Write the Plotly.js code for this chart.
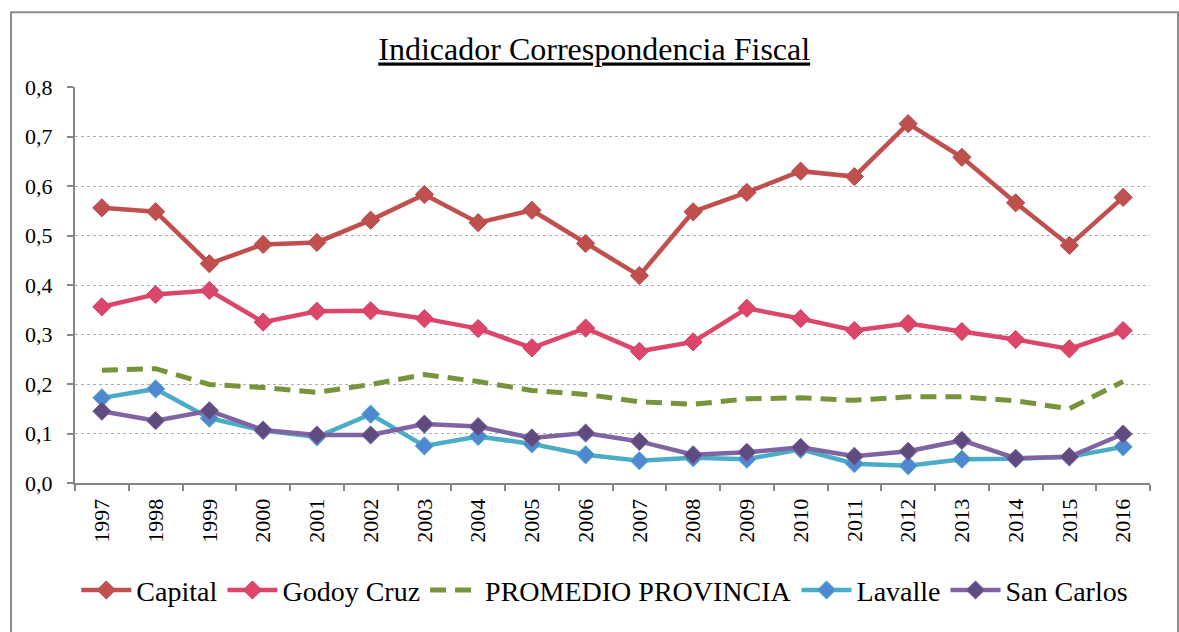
<!DOCTYPE html>
<html>
<head>
<meta charset="utf-8">
<script src="https://cdn.plot.ly/plotly-3.0.1.min.js"></script>
<style>
html, body { margin: 0; padding: 0; background: #fff; }
#chart { width: 1179px; height: 632px; }
</style>
</head>
<body>
<div id="chart"></div>
<script>
const years = ["1997","1998","1999","2000","2001","2002","2003","2004","2005","2006","2007","2008","2009","2010","2011","2012","2013","2014","2015","2016"];
const capital = [0.556,0.548,0.443,0.482,0.486,0.531,0.583,0.526,0.551,0.484,0.419,0.548,0.587,0.630,0.619,0.726,0.658,0.566,0.480,0.577];
const godoyCruz = [0.356,0.381,0.389,0.325,0.347,0.348,0.332,0.312,0.273,0.313,0.266,0.285,0.353,0.332,0.308,0.322,0.306,0.290,0.271,0.308];
const promedio = [0.228,0.231,0.199,0.193,0.183,0.199,0.219,0.205,0.187,0.179,0.164,0.159,0.170,0.172,0.167,0.174,0.174,0.166,0.150,0.205];
const lavalle = [0.172,0.190,0.131,0.106,0.093,0.139,0.075,0.094,0.079,0.057,0.045,0.051,0.048,0.068,0.039,0.035,0.048,0.049,0.053,0.073];
const sanCarlos = [0.145,0.126,0.146,0.107,0.097,0.097,0.119,0.114,0.091,0.101,0.084,0.057,0.062,0.072,0.054,0.064,0.086,0.050,0.053,0.099];
const seriesNames = ["Capital","Godoy Cruz","PROMEDIO PROVINCIA","Lavalle","San Carlos"];

const font = "Liberation Serif";

function lineTrace(name, y, lineColor, markerColor, markerLine) {
  return {
    type: "scatter", mode: "lines+markers", name: name, x: years, y: y,
    line: {color: lineColor, width: 4.5},
    marker: {symbol: "diamond", size: 14, color: markerColor, line: {color: markerLine, width: 1}}
  };
}

const data = [
  lineTrace(seriesNames[0], capital, "#C0504D", "#C0504D", "#B8474A"),
  lineTrace(seriesNames[1], godoyCruz, "#DC466A", "#DC466A", "#D33E62"),
  {type: "scatter", mode: "lines", name: seriesNames[2], x: years, y: promedio,
   line: {color: "#77933C", width: 5, dash: "16px,9px"}},
  lineTrace(seriesNames[3], lavalle, "#4BACC6", "#4F88D0", "#4BACC6"),
  lineTrace(seriesNames[4], sanCarlos, "#8064A2", "#5F4B80", "#7A60A0")
];

const layout = {
  width: 1179, height: 632,
  margin: {l: 75, r: 29, t: 87, b: 149, autoexpand: false},
  paper_bgcolor: "#fff", plot_bgcolor: "#fff",
  separators: ",.",
  font: {family: font, color: "#000", size: 22},
  showlegend: true,
  title: {
    text: "<u>Indicador Correspondencia Fiscal</u>",
    font: {family: font, size: 32, color: "#000"},
    x: 0.504, xanchor: "center", xref: "container",
    y: 0.922, yanchor: "middle", yref: "container"
  },
  xaxis: {
    type: "category",
    showline: true, linecolor: "#868686", linewidth: 2,
    ticks: "outside", ticklen: 6, tickcolor: "#868686", tickwidth: 2,
    tickson: "boundaries",
    tickangle: -90,
    ticklabelstandoff: 5,
    showgrid: false, zeroline: false,
    tickfont: {family: font, size: 22, color: "#000"},
    range: [-0.5, 19.5]
  },
  yaxis: {
    range: [0, 0.8], dtick: 0.1, tick0: 0,
    tickformat: ".1f",
    showline: true, linecolor: "#868686", linewidth: 2,
    ticks: "outside", ticklen: 6, tickcolor: "#868686", tickwidth: 2,
    ticklabelstandoff: 10,
    showgrid: true, gridcolor: "#B0B0B0", gridwidth: 1, griddash: "dot",
    zeroline: false,
    tickfont: {family: font, size: 22, color: "#000"}
  },
  legend: {
    orientation: "h",
    xref: "container", yref: "container",
    x: 0.513, xanchor: "center",
    y: 0.066, yanchor: "middle",
    font: {family: font, size: 28, color: "#000"},
    itemwidth: 50,
    tracegroupgap: 0,
    bgcolor: "rgba(0,0,0,0)"
  },
  shapes: [{
    type: "rect", xref: "paper", yref: "paper",
    x0: -0.0595, x1: 1.026, y0: -0.45, y1: 1.189,
    line: {color: "#8C8C8C", width: 2}, fillcolor: "rgba(0,0,0,0)", layer: "below"
  }]
};

Plotly.newPlot("chart", data, layout, {displayModeBar: false, staticPlot: true});
</script>
</body>
</html>
